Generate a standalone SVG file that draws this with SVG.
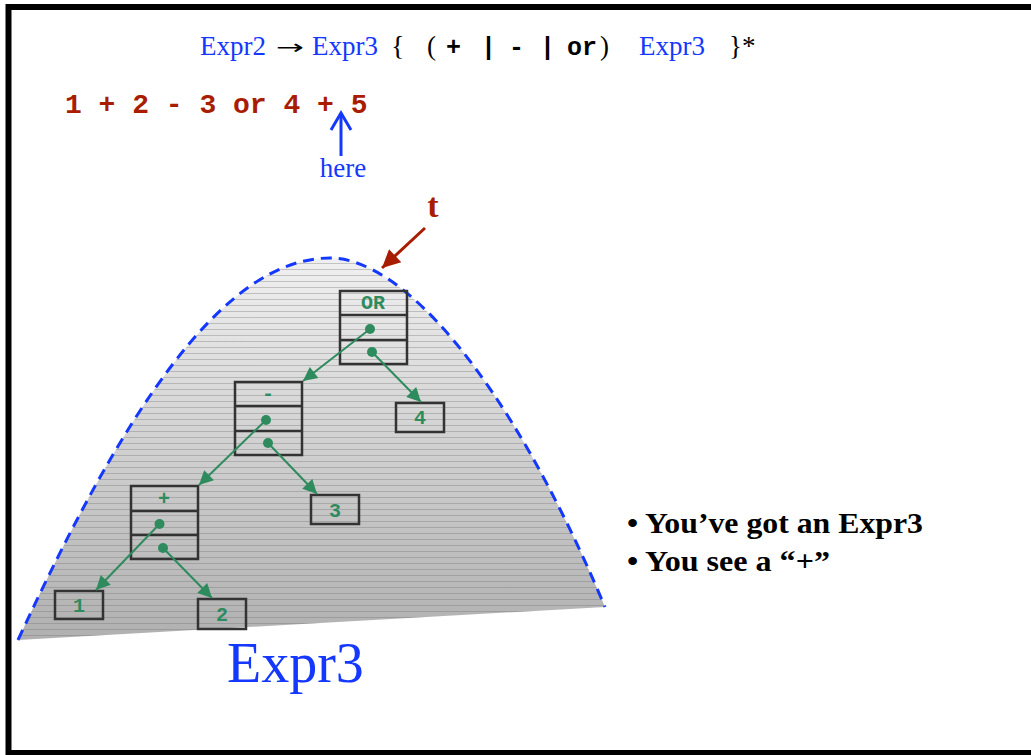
<svg xmlns="http://www.w3.org/2000/svg" width="1031" height="755" viewBox="0 0 1031 755">
<style>
.ser{font-family:"Liberation Serif","Times New Roman",serif}
.mono{font-family:"Liberation Mono","Courier New",monospace;font-weight:bold}
.blue{fill:#1438ff}
.blk{fill:#000}
.box{fill:none;stroke:#333;stroke-width:2.5}
.lbl{font-family:"Liberation Mono","Courier New",monospace;font-weight:bold;font-size:20px;fill:#2e8b5e;text-anchor:middle}
.edge{stroke:#2e8b5e;stroke-width:2;fill:none;marker-end:url(#gh)}
.dot{fill:#2e8b5e}
</style>
<defs>
<linearGradient id="g" x1="0" y1="258" x2="0" y2="640" gradientUnits="userSpaceOnUse">
<stop offset="0" stop-color="#f0f0f0"/>
<stop offset="1" stop-color="#b0b0b0"/>
</linearGradient>
<pattern id="stripe" patternUnits="userSpaceOnUse" width="20" height="6">
<line x1="0" y1="5.5" x2="20" y2="5.5" stroke="#6e6e6e" stroke-opacity="0.35" stroke-width="1"/>
</pattern>
<marker id="gh" viewBox="0 0 10 10" refX="10" refY="5" markerWidth="8" markerHeight="7" markerUnits="strokeWidth" orient="auto">
<path d="M0,0 L10,5 L0,10 z" fill="#2e8b5e"/>
</marker>
<marker id="rh" viewBox="0 0 10 10" refX="10" refY="5" markerWidth="7" markerHeight="6" markerUnits="strokeWidth" orient="auto">
<path d="M0,0 L10,5 L0,10 z" fill="#a81c00"/>
</marker>
</defs>
<rect x="0" y="0" width="1031" height="755" fill="#fff"/>
<rect id="frame" x="8.5" y="7" width="1030" height="746" fill="none" stroke="#000" stroke-width="6"/>

<g id="title">
<text class="ser blue" x="200" y="55" font-size="27">Expr2</text>
<text x="276" y="54" font-size="20" font-family="DejaVu Sans, sans-serif" fill="#000" textLength="28" lengthAdjust="spacingAndGlyphs">→</text>
<text class="ser blue" x="312" y="55" font-size="27">Expr3</text>
<text class="ser blk" x="391" y="55" font-size="28">{</text>
<text class="ser blk" x="427" y="55" font-size="27">(</text>
<text class="mono blk" x="446" y="55" font-size="25">+</text>
<text class="mono blk" x="481" y="55" font-size="25">|</text>
<text class="mono blk" x="509" y="55" font-size="25">-</text>
<text class="mono blk" x="540" y="55" font-size="25">|</text>
<text class="mono blk" x="567" y="55" font-size="25">or</text>
<text class="ser blk" x="600" y="55" font-size="27">)</text>
<text class="ser blue" x="639" y="55" font-size="27">Expr3</text>
<text class="ser blk" x="729" y="55" font-size="27">}*</text>
</g>

<g id="expression">
<text class="mono" x="65" y="113" font-size="28" fill="#a81c00" xml:space="preserve">1 + 2 - 3 or 4 + 5</text>
</g>

<g id="here">
<line x1="341" y1="156" x2="341" y2="113" stroke="#1438ff" stroke-width="3"/>
<polyline points="331,130 341,113 351,130" fill="none" stroke="#1438ff" stroke-width="3"/>
<text class="ser blue" x="343" y="177" font-size="27" text-anchor="middle">here</text>
</g>

<g id="t-label">
<text class="ser" x="433" y="217" font-size="34" font-weight="bold" fill="#a81c00" text-anchor="middle">t</text>
<line x1="425" y1="228" x2="382" y2="268" stroke="#a81c00" stroke-width="3" marker-end="url(#rh)"/>
</g>

<g id="tree-shape">
<path d="M18,640 C120,420 220,258 330,258 C400,258 505,370 605,607 Z" fill="url(#g)"/>
<path d="M18,640 C120,420 220,258 330,258 C400,258 505,370 605,607 Z" fill="url(#stripe)"/>
<path d="M18,640 C120,420 220,258 330,258 C400,258 505,370 605,607" fill="none" stroke="#1438ff" stroke-width="3" stroke-dasharray="11 7"/>
</g>

<g id="node-or">
<rect class="box" x="340" y="291" width="67" height="73"/>
<line class="box" x1="340" y1="315" x2="407" y2="315"/>
<line class="box" x1="340" y1="340" x2="407" y2="340"/>
<text class="lbl" x="373" y="309">OR</text>
</g>
<g id="node-minus">
<rect class="box" x="235" y="382" width="67" height="73"/>
<line class="box" x1="235" y1="406" x2="302" y2="406"/>
<line class="box" x1="235" y1="431" x2="302" y2="431"/>
<text class="lbl" x="268" y="400">-</text>
</g>
<g id="node-plus">
<rect class="box" x="131" y="486" width="67" height="73"/>
<line class="box" x1="131" y1="511" x2="198" y2="511"/>
<line class="box" x1="131" y1="535" x2="198" y2="535"/>
<text class="lbl" x="164" y="505">+</text>
</g>
<g id="node-4">
<rect class="box" x="396" y="403" width="48" height="29"/>
<text class="lbl" x="420" y="424">4</text>
</g>
<g id="node-3">
<rect class="box" x="311" y="495" width="48" height="29"/>
<text class="lbl" x="335" y="517">3</text>
</g>
<g id="node-1">
<rect class="box" x="55" y="591" width="48" height="28"/>
<text class="lbl" x="79" y="612">1</text>
</g>
<g id="node-2">
<rect class="box" x="198" y="599" width="48" height="30"/>
<text class="lbl" x="222" y="621">2</text>
</g>

<g id="connectors">
<circle class="dot" cx="370" cy="329" r="5"/>
<circle class="dot" cx="372" cy="352" r="5"/>
<circle class="dot" cx="266" cy="420" r="5"/>
<circle class="dot" cx="268" cy="443" r="5"/>
<circle class="dot" cx="159.5" cy="524" r="5"/>
<circle class="dot" cx="163" cy="548" r="5"/>
<line class="edge" x1="370" y1="329" x2="303" y2="381"/>
<line class="edge" x1="372" y1="352" x2="421" y2="402"/>
<line class="edge" x1="266" y1="420" x2="199" y2="485"/>
<line class="edge" x1="268" y1="443" x2="317" y2="494"/>
<line class="edge" x1="159.5" y1="524" x2="96" y2="590"/>
<line class="edge" x1="163" y1="548" x2="212" y2="598"/>
</g>

<g id="bullets">
<text class="ser" x="627" y="533" font-size="30" font-weight="bold" textLength="296" lengthAdjust="spacingAndGlyphs">• You’ve got an Expr3</text>
<text class="ser" x="627" y="571" font-size="30" font-weight="bold" textLength="203" lengthAdjust="spacingAndGlyphs">• You see a “+”</text>
</g>

<g id="caption">
<text class="ser blue" x="227" y="682" font-size="56">Expr3</text>
</g>
</svg>
